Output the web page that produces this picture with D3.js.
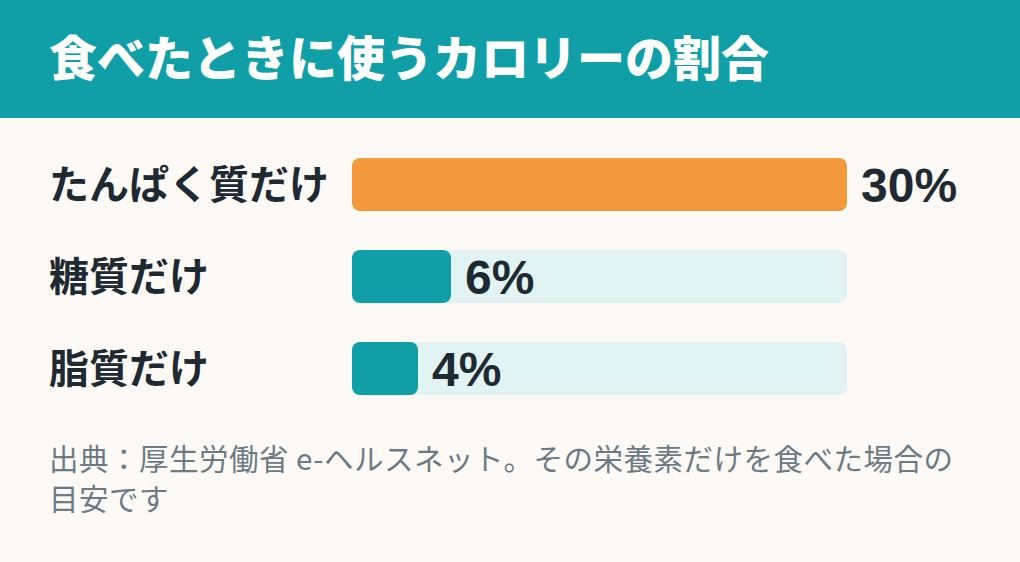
<!DOCTYPE html>
<html><head><meta charset="utf-8">
<script src="https://cdn.jsdelivr.net/npm/d3@7/dist/d3.min.js"></script>
<style>html,body{margin:0;padding:0;background:#fdfaf5;}svg{display:block;}</style>
</head><body>
<script>
const title = "食べたときに使うカロリーの割合";
const categories = ["たんぱく質だけ", "糖質だけ", "脂質だけ"];
const values = [30, 6, 4];
const valueLabels = ["30%", "6%", "4%"];
const highlight = ["たんぱく質だけ"];
const footnoteLines = ["出典：厚生労働省 e-ヘルスネット。その栄養素だけを食べた場合の", "目安です"];

const W = 1020, H = 562;
const font = "'Noto Sans CJK JP','Noto Sans',sans-serif";
const svg = d3.select("body").append("svg").attr("width", W).attr("height", H);
svg.append("rect").attr("width", W).attr("height", H).attr("fill", "#fdfaf5");
svg.append("rect").attr("width", W).attr("height", 118).attr("fill", "#109fa6");
svg.append("text").attr("x", 49).attr("y", 76).attr("fill", "#fff")
  .attr("font-family", font).attr("font-weight", 900).attr("font-size", 48).text(title);

const x = d3.scaleLinear().domain([0, 30]).range([352, 847]);
const y = d3.scaleBand().domain(categories).range([158, 395]).paddingInner(0.424).paddingOuter(0);

const rows = svg.selectAll("g.row").data(categories.map((c, i) => ({c, v: values[i], l: valueLabels[i]})))
  .enter().append("g").attr("class", "row");
rows.append("rect").attr("x", x(0)).attr("y", d => y(d.c)).attr("width", x(30) - x(0))
  .attr("height", y.bandwidth()).attr("rx", 8).attr("fill", "#e1f3f2");
rows.append("rect").attr("x", x(0)).attr("y", d => y(d.c)).attr("width", d => x(d.v) - x(0))
  .attr("height", y.bandwidth()).attr("rx", 8)
  .attr("fill", d => highlight.includes(d.c) ? "#f39a3c" : "#109fa6");
rows.append("text").attr("x", 49).attr("y", d => y(d.c) + y.bandwidth() / 2).attr("dy", "0.36em")
  .attr("fill", "#1e2a33").attr("font-family", font).attr("font-weight", 700).attr("font-size", 40)
  .text(d => d.c);
rows.append("text").attr("x", d => x(d.v) + 14).attr("y", d => y(d.c) + y.bandwidth() / 2).attr("dy", "0.36em")
  .attr("fill", "#1e2a33").attr("font-family", "'Liberation Sans',Arial,sans-serif").attr("font-weight", 700).attr("font-size", 48)
  .text(d => d.l);

svg.selectAll("text.foot").data(footnoteLines).enter().append("text").attr("class", "foot")
  .attr("x", 49).attr("y", (d, i) => 470 + i * 40)
  .attr("fill", "#6b7b85").attr("font-family", font).attr("font-size", 29.5)
  .attr("letter-spacing", 0.5).text(d => d);
</script>
</body></html>
